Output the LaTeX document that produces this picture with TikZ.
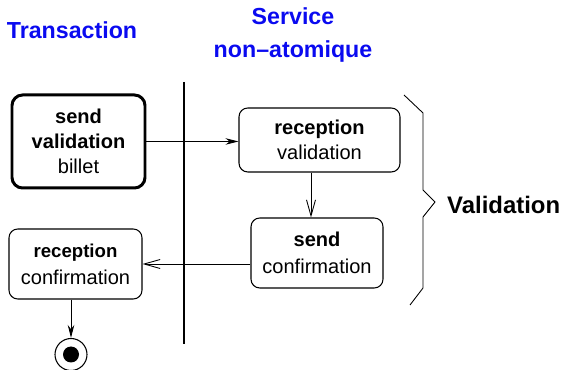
\documentclass[tikz,border=0pt]{standalone}
\usepackage{fontspec}
\setmainfont{Liberation Sans}
\usepackage{tikz}
\usetikzlibrary{arrows.meta, positioning, calc}
\definecolor{ttlblue}{RGB}{10,10,240}
\tikzset{
  actbox/.style={rectangle, draw=black, fill=white, align=center,
    rounded corners=5pt, line width=0.6pt,
    font=\fontsize{11.4}{14.2}\selectfont},
  startbox/.style={actbox, line width=1.7pt, rounded corners=6pt},
  title/.style={font=\fontsize{13.2}{18.8}\selectfont\bfseries, color=ttlblue, align=center},
  arrow/.style={-{Stealth[length=0.26cm, width=0.13cm]}, line width=0.5pt},
  openarrow/.style={-{Straight Barb[length=0.32cm, width=0.18cm]}, line width=0.5pt}
}

\begin{document}
\begin{tikzpicture}
  \useasboundingbox (0,0) rectangle (11.3,7.4);

  % --- Swimlane headers ---
  \node[title] (hdtrans) at (1.44, 6.79) {Transaction};
  \node[title] (hdserv) at (5.86, 6.7) {Service\\non--atomique};

  % separator between the lanes
  \coordinate (septop) at (3.68, 5.76);
  \coordinate (sepbot) at (3.68, 0.52);
  \draw[line width=1.1pt] (septop) -- (sepbot);

  % --- Activities ---
  \node[startbox, minimum width=2.66cm, minimum height=1.86cm] (sendval)
    at (1.57, 4.57) {\textbf{send}\\\textbf{validation}\\billet};
  \node[actbox, minimum width=3.22cm, minimum height=1.28cm] (recval)
    at (6.39, 4.6) {\textbf{reception}\\validation};
  \node[actbox, minimum width=2.64cm, minimum height=1.40cm] (sendconf)
    at (6.34, 2.34) {\textbf{send}\\[1pt]confirmation};
  \node[actbox, minimum width=2.66cm, minimum height=1.40cm] (recconf)
    at (1.51, 2.12) {{\fontsize{10.6}{13}\selectfont\textbf{reception}}\\[1pt]confirmation};

  % final state
  \node[circle, draw=black, line width=0.6pt, fill=white, minimum size=0.64cm,
        inner sep=0pt] (final) at (1.42, 0.31) {};
  \node[circle, fill=black, minimum size=0.32cm, inner sep=0pt] (finaldot)
    at (final.center) {};

  % --- Flows ---
  \draw[arrow] (sendval.east) -- (sendval.east -| recval.west);
  \draw[openarrow] ([xshift=-0.17cm]recval.south) -- ([xshift=-0.17cm]recval.south |- sendconf.north);
  \draw[openarrow] (recconf.east -| sendconf.west) -- (recconf.east);
  \draw[arrow] (recconf.south -| final.north) -- (final.north);

  % --- Brace grouping the service part ---
  \coordinate (brtop) at (8.08, 5.5);
  \coordinate (brtip) at (8.70, 3.36);
  \coordinate (brbot) at (8.2, 1.3);
  \draw[line width=0.5pt] (brtop) -- (8.46, 5.14) -- (8.46, 3.6) -- (brtip)
    -- (8.46, 3.06) -- (8.46, 1.64) -- (brbot);
  \node[font=\fontsize{13.6}{15}\selectfont\bfseries, anchor=west] (lblval)
    at ([xshift=0.12cm, yshift=-0.06cm]brtip) {Validation};
\end{tikzpicture}
\end{document}
